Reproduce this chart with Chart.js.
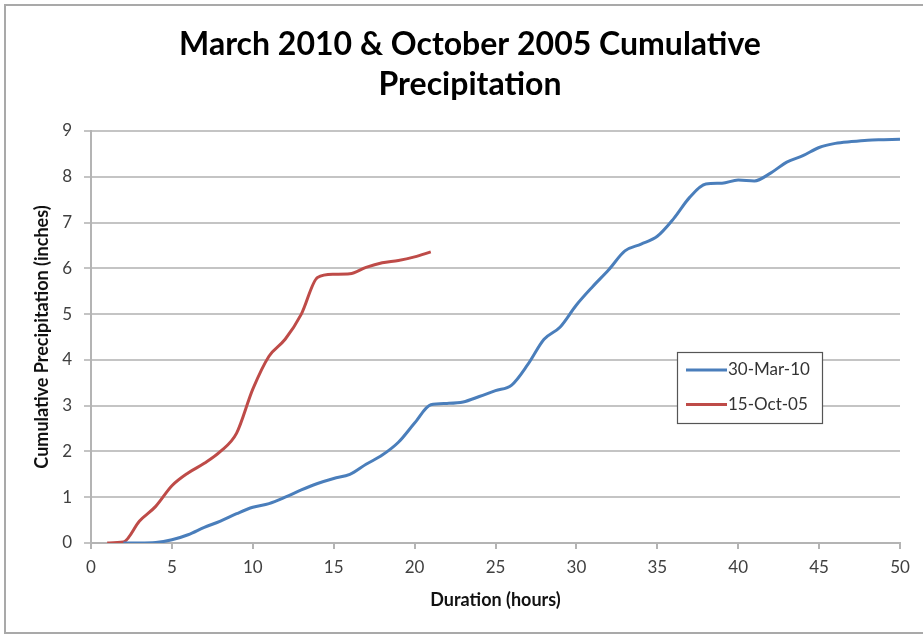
<!DOCTYPE html>
<html>
<head>
<meta charset="utf-8">
<script src="https://cdn.jsdelivr.net/npm/chart.js@4.4.1/dist/chart.umd.min.js"></script>
<style>
    body { margin: 0; background: #fff; }
    #chart { display: block; }
</style>
</head>
<body>
<canvas id="chart" width="923" height="634"></canvas>
<script>
// hourly cumulative totals, inches
const hoursOct = [1, 2, 3, 4, 5, 6, 7, 8, 9, 10, 11, 12, 13, 14, 15, 16, 17, 18, 19, 20, 21]
const precipOct = [0, 0.02, 0.48, 0.80, 1.25, 1.53, 1.74, 2.00, 2.40, 3.36, 4.08, 4.45, 5.00, 5.80, 5.87, 5.88, 6.02, 6.12, 6.17, 6.25, 6.36]

const hoursMar = [2, 3, 4, 5, 6, 7, 8, 9, 10, 11, 12, 13, 14, 15, 16, 17, 18, 19, 20, 21, 22, 23, 24, 25, 26,
    27, 28, 29, 30, 31, 32, 33, 34, 35, 36, 37, 38, 39, 40, 41, 42, 43, 44, 45, 46, 47, 48, 49, 50]
const precipMar = [0, 0, 0.01, 0.07, 0.18, 0.34, 0.48, 0.64, 0.78, 0.86, 1.00, 1.16, 1.30, 1.41, 1.50, 1.72, 1.92, 2.20, 2.62, 3.02, 3.05, 3.08, 3.20, 3.33, 3.45,
    3.90, 4.45, 4.72, 5.20, 5.60, 5.97, 6.38, 6.53, 6.70, 7.08, 7.55, 7.84, 7.86, 7.93, 7.91, 8.08, 8.32, 8.46, 8.64, 8.73, 8.77, 8.80, 8.81, 8.82]

const seriesNames = ['30-Mar-10', '15-Oct-05']
const seriesColors = ['#4a7ebb', '#be4b48']

const xTicks = [0, 5, 10, 15, 20, 25, 30, 35, 40, 45, 50]
const yTicks = [0, 1, 2, 3, 4, 5, 6, 7, 8, 9]

const FONT = 'Lato, "DejaVu Sans", sans-serif'

function toPoints(xs, ys) {
    return xs.map((x, i) => ({ x: x, y: ys[i] }))
}

// frame around the whole chart (open on the right side)
const frame = {
    id: 'frame',
    beforeDraw(chart) {
        const ctx = chart.ctx
        ctx.save()
        ctx.fillStyle = '#fff'
        ctx.fillRect(0, 0, chart.width, chart.height)
        ctx.strokeStyle = '#a9a9a9'
        ctx.lineWidth = 2
        ctx.beginPath()
        ctx.moveTo(chart.width, 5)
        ctx.lineTo(5, 5)
        ctx.lineTo(5, 633)
        ctx.lineTo(chart.width, 633)
        ctx.stroke()
        ctx.restore()
    }
}

// boxed legend inside the plot area
const boxLegend = {
    id: 'boxLegend',
    afterDatasetsDraw(chart) {
        const ctx = chart.ctx
        const x0 = 677, y0 = 352, w = 145, h = 71
        ctx.save()
        ctx.fillStyle = '#fff'
        ctx.fillRect(x0, y0, w, h)
        ctx.strokeStyle = '#555'
        ctx.lineWidth = 1.2
        ctx.strokeRect(x0 + 0.5, y0 + 0.5, w, h)
        ctx.font = '17px ' + FONT
        ctx.textBaseline = 'middle'
        chart.data.datasets.forEach((ds, i) => {
            const y = y0 + 18 + i * 34.5
            ctx.strokeStyle = ds.borderColor
            ctx.lineWidth = 3
            ctx.beginPath()
            ctx.moveTo(x0 + 9, y)
            ctx.lineTo(x0 + 50, y)
            ctx.stroke()
            ctx.fillStyle = '#333'
            ctx.fillText(ds.label, x0 + 51, y)
        })
        ctx.restore()
    }
}

new Chart(document.getElementById('chart'), {
    type: 'line',
    data: {
        datasets: [{
            label: seriesNames[0],
            data: toPoints(hoursMar, precipMar),
            borderColor: seriesColors[0],
            backgroundColor: seriesColors[0],
            borderWidth: 3,
            pointRadius: 0,
            cubicInterpolationMode: 'monotone'
        }, {
            label: seriesNames[1],
            data: toPoints(hoursOct, precipOct),
            borderColor: seriesColors[1],
            backgroundColor: seriesColors[1],
            borderWidth: 3,
            pointRadius: 0,
            cubicInterpolationMode: 'monotone'
        }]
    },
    options: {
        responsive: false,
        animation: false,
        layout: { padding: { left: 17, right: 0, top: 0, bottom: 0 } },
        plugins: {
            legend: { display: false },
            tooltip: { enabled: false },
            title: {
                display: true,
                text: ['March 2010 & October 2005 Cumulative', 'Precipitation'],
                color: '#000',
                font: { family: FONT, size: 32, weight: 'bold', lineHeight: 1.25 },
                padding: { top: 25, bottom: 26 }
            }
        },
        scales: {
            x: {
                type: 'linear',
                min: 0,
                max: 50,
                afterBuildTicks: (scale) => { scale.ticks = xTicks.map(v => ({ value: v })) },
                afterFit: (scale) => {
                    scale.height = 91
                    scale.paddingRight = 23
                },
                border: { display: true, color: '#b4b4b4', width: 2 },
                grid: { drawOnChartArea: false, drawTicks: true, tickLength: 6, color: '#b4b4b4', lineWidth: 2 },
                ticks: { color: '#404040', font: { family: FONT, size: 17 }, padding: 8, maxRotation: 0 },
                title: {
                    display: true,
                    text: 'Duration (hours)',
                    color: '#111',
                    font: { family: FONT, size: 18, weight: 'bold' },
                    padding: { top: 4, bottom: 23 }
                }
            },
            y: {
                min: 0,
                max: 9,
                afterBuildTicks: (scale) => { scale.ticks = yTicks.map(v => ({ value: v })) },
                afterFit: (scale) => { scale.width = 74 },
                border: { display: true, color: '#b4b4b4', width: 2 },
                grid: { color: '#c4c4c4', lineWidth: 2, tickLength: 7 },
                ticks: { color: '#404040', font: { family: FONT, size: 17 }, padding: 12 },
                title: {
                    display: true,
                    text: 'Cumulative Precipitation (inches)',
                    color: '#111',
                    font: { family: FONT, size: 18, weight: 'bold' },
                    padding: { top: 14, bottom: 0 }
                }
            }
        }
    },
    plugins: [frame, boxLegend]
})
</script>
</body>
</html>
